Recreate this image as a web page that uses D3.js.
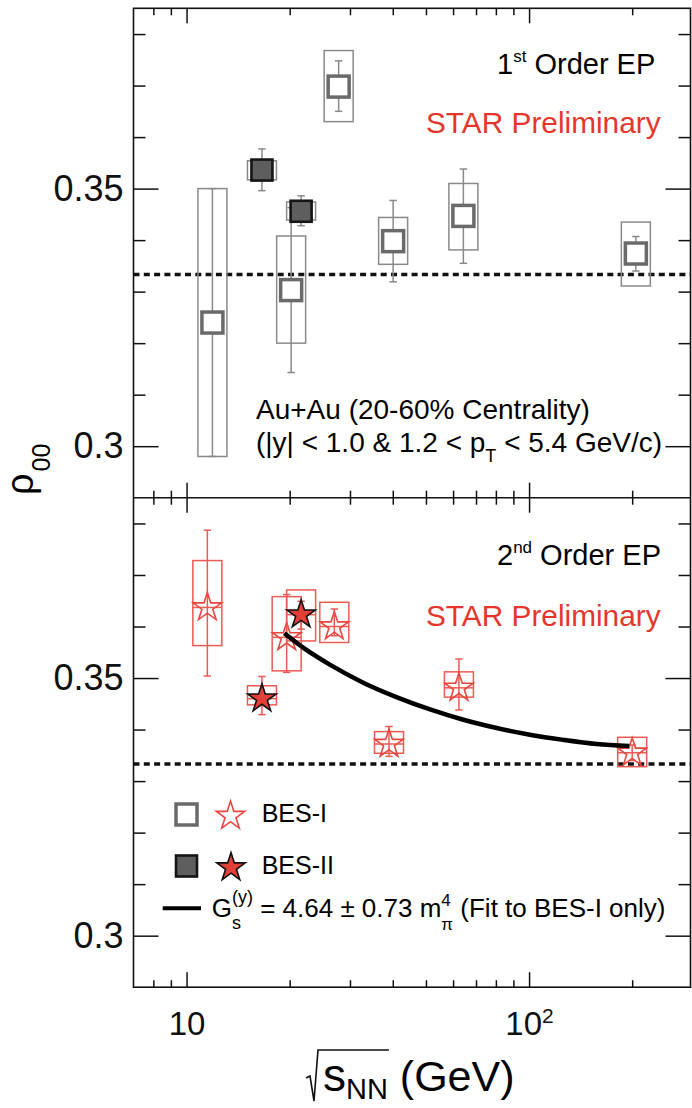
<!DOCTYPE html>
<html>
<head>
<meta charset="utf-8">
<script src="https://cdn.jsdelivr.net/npm/d3@7"></script>
<style>
  body { margin: 0; background: #fff; }
  text { font-family: "Liberation Sans", Arial, Helvetica, sans-serif; }
</style>
</head>
<body>
<div id="chart"></div>
<script>
// ---- data ----
// 1st order EP (top panel)
var top1X      = [11.9, 20.2, 27.8, 40.1, 64.3, 205];
var top1Rho    = [0.3240, 0.3303, 0.3698, 0.3398, 0.3447, 0.3374];
var top1StatLo = [0.2980, 0.3143, 0.3650, 0.3319, 0.3355, 0.3340];
var top1StatHi = [0.3500, 0.3463, 0.3748, 0.3477, 0.3538, 0.3407];
var top1SysLo  = [0.2980, 0.3200, 0.3630, 0.3353, 0.3381, 0.3311];
var top1SysHi  = [0.3500, 0.3408, 0.3768, 0.3444, 0.3510, 0.3435];

var top2X      = [16.6, 21.6];
var top2Rho    = [0.3536, 0.3456];
var top2StatLo = [0.3496, 0.3428];
var top2StatHi = [0.3577, 0.3486];
var top2SysLo  = [0.3517, 0.3439];
var top2SysHi  = [0.3554, 0.3474];

// 2nd order EP (bottom panel)
var bot1X      = [11.5, 19.6, 27, 39, 62.4, 200];
var bot1Rho    = [0.3637, 0.3579, 0.3600, 0.3372, 0.3481, 0.3355];
var bot1StatLo = [0.3504, 0.3511, 0.3582, 0.3348, 0.3438, 0.3340];
var bot1StatHi = [0.3787, 0.3662, 0.3634, 0.3406, 0.3537, 0.3370];
var bot1SysLo  = [0.3563, 0.3514, 0.3569, 0.3354, 0.3463, 0.3328];
var bot1SysHi  = [0.3728, 0.3658, 0.3647, 0.3396, 0.3512, 0.3385];

var bot2X      = [16.6, 21.6];
var bot2Rho    = [0.3460, 0.3623];
var bot2StatLo = [0.3429, 0.3595];
var bot2StatHi = [0.3503, 0.3649];
var bot2SysLo  = [0.3448, 0.3572];
var bot2SysHi  = [0.3485, 0.3671];

// fit curve (BES-I only)
var fitX   = [19.3, 22, 26.2, 32.8, 41, 51.4, 64.3, 80.4, 100.6, 126, 157.5, 196];
var fitRho = [0.3587, 0.3558, 0.3526, 0.3491, 0.3463, 0.3439, 0.3419, 0.3403, 0.3390, 0.3380, 0.3372, 0.3368];

var refRho = [1 / 3];

// ticks
var yMajor = [0.30, 0.35];
var yMinor = [0.31, 0.32, 0.33, 0.34, 0.36, 0.37, 0.38];
var xMajor = [10, 100];
var xMinor = [8, 9, 20, 30, 40, 50, 60, 70, 80, 90, 200];

// ---- layout ----
var width = 692, height = 1108;
var left = 133.5, right = 690.5;
var gray = "#6a6a6a", grayLight = "#8a8a8a";
var red = "#e8473f", redLight = "#ec5a54", starRed = "#e23f37";

var svg = d3.select("#chart").append("svg")
    .attr("width", width)
    .attr("height", height);

var x = d3.scaleLog().domain([7, 296]).range([left, right]);

var panels = [
    { top: 8.3, bottom: 497.7 },
    { top: 497.7, bottom: 987.2 }
];
panels.forEach(function (p) {
    p.y = d3.scaleLinear().domain([0.29, 0.385]).range([p.bottom, p.top]);
});

var star = d3.symbol().type(d3.symbolStar).size(250);

function noDomain(g) { g.select(".domain").remove(); }

function drawAxes(p, i) {
    var g = svg.append("g").attr("color", "#111").attr("stroke-width", 1.5);
    var fmt = d3.format(".2~f");

    g.append("g").attr("transform", "translate(" + left + ",0)")
        .call(d3.axisLeft(p.y).tickValues(yMajor).tickSize(-25).tickPadding(10).tickFormat(fmt))
        .call(noDomain)
        .attr("font-size", 36);
    g.append("g").attr("transform", "translate(" + left + ",0)")
        .call(d3.axisLeft(p.y).tickValues(yMinor).tickSize(-12).tickFormat(""))
        .call(noDomain);
    g.append("g").attr("transform", "translate(" + right + ",0)")
        .call(d3.axisRight(p.y).tickValues(yMajor).tickSize(-25).tickFormat(""))
        .call(noDomain);
    g.append("g").attr("transform", "translate(" + right + ",0)")
        .call(d3.axisRight(p.y).tickValues(yMinor).tickSize(-12).tickFormat(""))
        .call(noDomain);

    g.append("g").attr("transform", "translate(0," + p.top + ")")
        .call(d3.axisTop(x).tickValues(xMajor).tickSize(-15).tickFormat(""))
        .call(noDomain);
    g.append("g").attr("transform", "translate(0," + p.top + ")")
        .call(d3.axisTop(x).tickValues(xMinor).tickSize(-7).tickFormat(""))
        .call(noDomain);

    var bx = g.append("g").attr("transform", "translate(0," + p.bottom + ")")
        .call(d3.axisBottom(x).tickValues(xMajor).tickSize(-15).tickPadding(24)
            .tickFormat(i === 1 ? function () { return "10"; } : ""))
        .call(noDomain)
        .attr("font-size", 33);
    if (i === 1) {
        bx.selectAll(".tick text").filter(function (d) { return d === 100; })
            .append("tspan").attr("font-size", 21).attr("dy", "-0.55em").text("2");
    }
    g.append("g").attr("transform", "translate(0," + p.bottom + ")")
        .call(d3.axisBottom(x).tickValues(xMinor).tickSize(-7).tickFormat(""))
        .call(noDomain);

    // dotted 1/3 reference
    svg.append("g").selectAll("line").data(refRho).enter().append("line")
        .attr("x1", left).attr("x2", right)
        .attr("y1", function (d) { return p.y(d); })
        .attr("y2", function (d) { return p.y(d); })
        .attr("stroke", "#111").attr("stroke-width", 3.5)
        .attr("stroke-dasharray", "6,4.3");
}

function drawSeries(p, xs, rho, statLo, statHi, sysLo, sysHi, opt) {
    var g = svg.append("g");
    // systematic boxes
    g.selectAll("rect.sys").data(xs).enter().append("rect")
        .attr("class", "sys")
        .attr("x", function (d) { return x(d) - 14.5; })
        .attr("width", 29)
        .attr("y", function (d, i) { return p.y(sysHi[i]); })
        .attr("height", function (d, i) { return p.y(sysLo[i]) - p.y(sysHi[i]); })
        .attr("fill", "none")
        .attr("stroke", opt.boxColor).attr("stroke-width", 1.5);
    if (opt.midLine) {
        g.selectAll("line.mid").data(xs).enter().append("line")
            .attr("x1", function (d) { return x(d) - 14.5; })
            .attr("x2", function (d) { return x(d) + 14.5; })
            .attr("y1", function (d, i) { return p.y(rho[i]); })
            .attr("y2", function (d, i) { return p.y(rho[i]); })
            .attr("stroke", opt.boxColor).attr("stroke-width", 1.5);
    }
    // stat error bars
    g.selectAll("line.err").data(xs).enter().append("line")
        .attr("x1", function (d) { return x(d); })
        .attr("x2", function (d) { return x(d); })
        .attr("y1", function (d, i) { return p.y(statLo[i]); })
        .attr("y2", function (d, i) { return p.y(statHi[i]); })
        .attr("stroke", opt.boxColor).attr("stroke-width", 1.5);
    [statLo, statHi].forEach(function (arr) {
        g.selectAll(null).data(xs).enter().append("line")
            .attr("x1", function (d) { return x(d) - 3.7; })
            .attr("x2", function (d) { return x(d) + 3.7; })
            .attr("y1", function (d, i) { return p.y(arr[i]); })
            .attr("y2", function (d, i) { return p.y(arr[i]); })
            .attr("stroke", opt.boxColor).attr("stroke-width", 1.5);
    });
    // markers
    if (opt.marker === "square") {
        g.selectAll("rect.mk").data(xs).enter().append("rect")
            .attr("x", function (d) { return x(d) - 10.5; })
            .attr("y", function (d, i) { return p.y(rho[i]) - 10.5; })
            .attr("width", 21).attr("height", 21)
            .attr("fill", opt.fill).attr("stroke", opt.stroke).attr("stroke-width", opt.sw);
    } else {
        g.selectAll("path.mk").data(xs).enter().append("path")
            .attr("d", star)
            .attr("transform", function (d, i) { return "translate(" + x(d) + "," + p.y(rho[i]) + ")"; })
            .attr("fill", opt.fill).attr("stroke", opt.stroke).attr("stroke-width", opt.sw)
            .attr("stroke-linejoin", "miter");
    }
}

panels.forEach(drawAxes);

var P0 = panels[0], P1 = panels[1];
drawSeries(P0, top1X, top1Rho, top1StatLo, top1StatHi, top1SysLo, top1SysHi,
    { boxColor: grayLight, marker: "square", fill: "#fff", stroke: gray, sw: 3.5 });
drawSeries(P0, top2X, top2Rho, top2StatLo, top2StatHi, top2SysLo, top2SysHi,
    { boxColor: grayLight, marker: "square", fill: "#5e5e5e", stroke: "#151515", sw: 2.6 });
drawSeries(P1, bot1X, bot1Rho, bot1StatLo, bot1StatHi, bot1SysLo, bot1SysHi,
    { boxColor: redLight, marker: "star", fill: "none", stroke: red, sw: 1.6, midLine: true });
drawSeries(P1, bot2X, bot2Rho, bot2StatLo, bot2StatHi, bot2SysLo, bot2SysHi,
    { boxColor: redLight, marker: "star", fill: starRed, stroke: "#111", sw: 1.6, midLine: true });

// fit curve
var fitLine = d3.line()
    .x(function (d) { return x(d[0]); })
    .y(function (d) { return P1.y(d[1]); })
    .curve(d3.curveMonotoneX);
svg.append("path")
    .datum(d3.zip(fitX, fitRho))
    .attr("d", fitLine)
    .attr("fill", "none").attr("stroke", "#000").attr("stroke-width", 4.5);

// frame
svg.append("rect")
    .attr("x", left).attr("y", P0.top)
    .attr("width", right - left).attr("height", P1.bottom - P0.top)
    .attr("fill", "none").attr("stroke", "#111").attr("stroke-width", 1.6);
svg.append("line")
    .attr("x1", left).attr("x2", right).attr("y1", P0.bottom).attr("y2", P0.bottom)
    .attr("stroke", "#111").attr("stroke-width", 1.6);

// ---- texts ----
function orderLabel(y0, n, sup) {
    var t = svg.append("text").attr("x", 497).attr("y", y0).attr("font-size", 29).style("white-space", "pre");
    t.append("tspan").text(n);
    t.append("tspan").attr("font-size", 17).attr("dy", -12).text(sup);
    t.append("tspan").attr("dy", 12).text(" Order EP");
}
orderLabel(74, "1", "st");
orderLabel(565, "2", "nd");

[133, 626].forEach(function (yy) {
    svg.append("text").attr("x", 426).attr("y", yy).attr("font-size", 29.8)
        .attr("fill", "#e6362c").text("STAR Preliminary");
});

svg.append("text").attr("x", 256).attr("y", 419).attr("font-size", 28)
    .text("Au+Au (20-60% Centrality)");
var t2 = svg.append("text").attr("x", 256).attr("y", 452).attr("font-size", 28).style("white-space", "pre");
t2.append("tspan").text("(|y| < 1.0 & 1.2 < p");
t2.append("tspan").attr("font-size", 18).attr("dy", 10).text("T");
t2.append("tspan").attr("dy", -10).text(" < 5.4 GeV/c)");

// y axis title
var yt = svg.append("text").attr("transform", "translate(33,495) rotate(-90)");
yt.append("tspan").attr("font-size", 38).text("ρ");
yt.append("tspan").attr("font-size", 25).attr("dy", 17).attr("dx", 2).text("00");

// x axis title
var xt = svg.append("text").attr("x", 323).attr("y", 1091).style("white-space", "pre");
xt.append("tspan").attr("font-size", 46).text("s");
xt.append("tspan").attr("font-size", 29).attr("dy", 8).text("NN");
xt.append("tspan").attr("font-size", 43).attr("dy", -8).text(" (GeV)");
var rootLen = xt.node().getSubStringLength(0, 3);
svg.append("path")
    .attr("d", "M306,1078 L310,1076 L314,1101 L318,1050 L" + (323 + rootLen + 1) + ",1050")
    .attr("fill", "none").attr("stroke", "#111").attr("stroke-width", 1.6);

// legend
var legG = svg.append("g");
legG.append("rect").attr("x", 176).attr("y", 804).attr("width", 21).attr("height", 21)
    .attr("fill", "#fff").attr("stroke", gray).attr("stroke-width", 3.5);
legG.append("rect").attr("x", 176).attr("y", 855.5).attr("width", 21).attr("height", 21)
    .attr("fill", "#5e5e5e").attr("stroke", "#151515").attr("stroke-width", 2.6);
legG.append("path").attr("d", star).attr("transform", "translate(230.5,816)")
    .attr("fill", "none").attr("stroke", red).attr("stroke-width", 1.6);
legG.append("path").attr("d", star).attr("transform", "translate(231,867.5)")
    .attr("fill", starRed).attr("stroke", "#111").attr("stroke-width", 1.6);
legG.append("text").attr("x", 261.7).attr("y", 822).attr("font-size", 25).text("BES-I");
legG.append("text").attr("x", 261.7).attr("y", 874).attr("font-size", 25).text("BES-II");
legG.append("line").attr("x1", 162.7).attr("x2", 201).attr("y1", 908.3).attr("y2", 908.3)
    .attr("stroke", "#000").attr("stroke-width", 4);

function richText(g, x0, y0, parts) {
    var cx = x0;
    parts.forEach(function (p) {
        var items = p.stack || [p];
        var w = 0;
        items.forEach(function (s) {
            var t = g.append("text").attr("x", cx).attr("y", y0 + (s.dy || 0))
                .attr("font-size", s.size).style("white-space", "pre").text(s.text);
            w = Math.max(w, t.node().getComputedTextLength());
        });
        cx += w;
    });
}
richText(legG, 211.7, 916.7, [
    { text: "G", size: 26 },
    { stack: [{ text: "(y)", size: 18, dy: -14 }, { text: "s", size: 18, dy: 12 }] },
    { text: " = 4.64 ± 0.73 m", size: 26 },
    { stack: [{ text: "4", size: 17, dy: -11 }, { text: "π", size: 17, dy: 13 }] },
    { text: " (Fit to BES-I only)", size: 26 }
]);
</script>
</body>
</html>
